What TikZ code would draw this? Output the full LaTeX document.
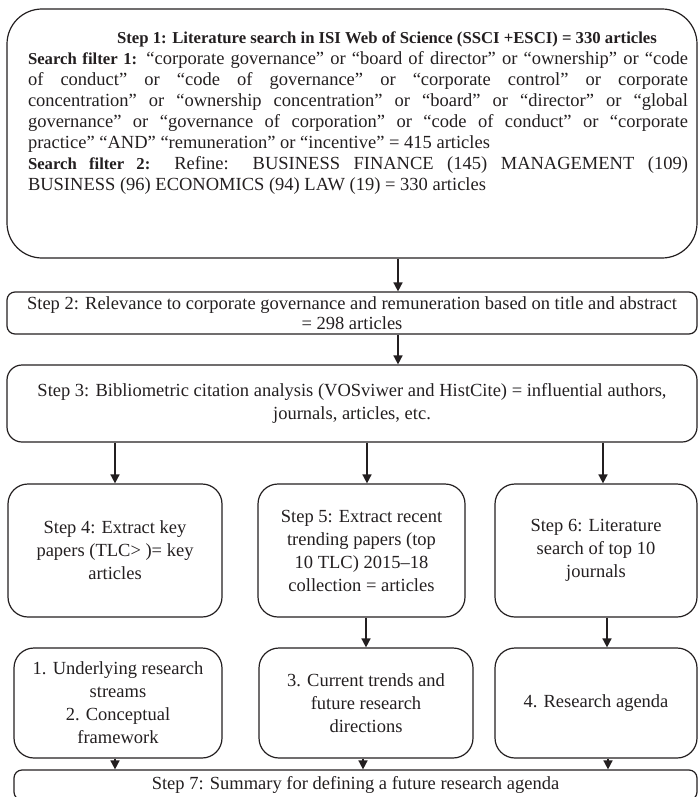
\documentclass[tikz,border=0pt]{standalone}
\usepackage{fontspec}
\setmainfont{Liberation Serif}
\usetikzlibrary{positioning,arrows.meta}
\setlength{\parindent}{0pt}
\definecolor{ink}{HTML}{231F20}
\newcommand{\headtxt}[1]{{\fontsize{16.7}{21}\selectfont\bfseries #1}}
\tikzset{
	frame/.style={draw=ink, text=ink, line width=1.2pt, align=center, inner sep=0pt,
		font=\fontsize{18.5}{23}\selectfont},
	arr/.style={draw=ink, line width=1.6pt, -{Triangle[length=9pt,width=9pt]}},
}
\begin{document}
\begin{tikzpicture}[x=1pt,y=1pt]
		\useasboundingbox (0,0) rectangle (699,-797);
		\node[frame, rounded corners=35pt, minimum width=690pt, minimum height=249pt] 		(s1) at (352,-133.5) {};
		\node[below=23pt of s1.north, xshift=6pt, text width=660pt, align=justify, inner sep=0pt, text=ink,
			font=\fontsize{18.5}{21}\selectfont] 											(s1txt) {%
			\hspace*{58pt}\hfill\headtxt{Step 1: Literature search in ISI Web of Science (SSCI +ESCI) = 330 articles}\hfill\null\par
			\headtxt{Search filter 1:} “corporate governance” or “board of director” or “ownership” or “code\linebreak
			of conduct” or “code of governance” or “corporate control” or corporate\linebreak
			concentration” or “ownership concentration” or “board” or “director” or “global\linebreak
			governance” or “governance of corporation” or “code of conduct” or “corporate\linebreak
			practice" “AND” “remuneration” or “incentive” = 415 articles\par
			\headtxt{Search filter 2:} Refine: BUSINESS FINANCE (145) MANAGEMENT (109)\linebreak
			BUSINESS (96) ECONOMICS (94) LAW (19) = 330 articles};
		\node[frame, rounded corners=8pt, minimum width=690pt, minimum height=42pt, font=\fontsize{18.5}{20}\selectfont,
			below of=s1, node distance=179.5pt] 											(s2) {Step 2: Relevance to corporate governance and remuneration based on title and abstract\\= 298 articles};
		\node[frame, rounded corners=15pt, minimum width=690pt, minimum height=77pt,
			below of=s2, node distance=90.5pt] 											(s3) {Step 3: Bibliometric citation analysis (VOSviwer and HistCite) = influential authors,\\journals, articles, etc.};
		
		\node[frame, rounded corners=20pt, minimum width=207pt, minimum height=133pt,
			below of=s3, node distance=147pt, xshift=9.5pt] 								(s5) {Step 5: Extract recent\\trending papers (top\\10 TLC) 2015–18\\collection = articles};
		\node[frame, rounded corners=20pt, minimum width=214pt, minimum height=133pt,
			left of=s5, node distance=246.5pt] 												(s4) {Step 4: Extract key\\papers (TLC> )= key\\articles};
		\node[frame, rounded corners=20pt, minimum width=202pt, minimum height=133pt,
			right of=s5, node distance=234.5pt] 											(s6) {Step 6: Literature\\search of top 10\\journals};
		
		\node[frame, rounded corners=20pt, minimum width=208pt, minimum height=110pt,
			below of=s4, node distance=152.5pt, xshift=3pt] 								(r1) {1. Underlying research\\streams\\2. Conceptual\\framework};
		\node[frame, rounded corners=20pt, minimum width=214pt, minimum height=110pt,
			below of=s5, node distance=152.5pt, xshift=4.5pt] 								(r2) {3. Current trends and\\future research\\directions};
		\node[frame, rounded corners=20pt, minimum width=202pt, minimum height=110pt,
			below of=s6, node distance=152.5pt] 											(r3) {4. Research agenda};
		
		\node[frame, rounded corners=8pt, minimum width=683pt, minimum height=30pt,
			below of=r2, node distance=82pt, xshift=-10.5pt] 								(s7) {Step 7: Summary for defining a future research agenda};
		
		% arrow positions
		\coordinate (a12) at ([xshift=46pt]s2.north);
		\coordinate (a23) at ([xshift=46pt]s3.north);
		\coordinate (a35) at ([xshift=5.5pt]s5.north);
		\coordinate (a36) at ([xshift=7pt]s6.north);
		\coordinate (a6r) at ([xshift=11pt]r3.north);
		\coordinate (a17) at ([xshift=-3pt]r1.south);
		\coordinate (a27) at ([xshift=-3pt]r2.south);
		\coordinate (a37) at ([xshift=12pt]r3.south);
		
		\draw[arr] (s1.south -| a12) -- (a12);
		\draw[arr] (s2.south -| a23) -- (a23);
		\draw[arr] (s3.south -| s4.north) -- (s4.north);
		\draw[arr] (s3.south -| a35) -- (a35);
		\draw[arr] (s3.south -| a36) -- (a36);
		\draw[arr] (s5.south -| r2.north) -- (r2.north);
		\draw[arr] (s6.south -| a6r) -- (a6r);
		\draw[arr] (a17) -- (s7.north -| a17);
		\draw[arr] (a27) -- (s7.north -| a27);
		\draw[arr] (a37) -- (s7.north -| a37);
\end{tikzpicture}
\end{document}
